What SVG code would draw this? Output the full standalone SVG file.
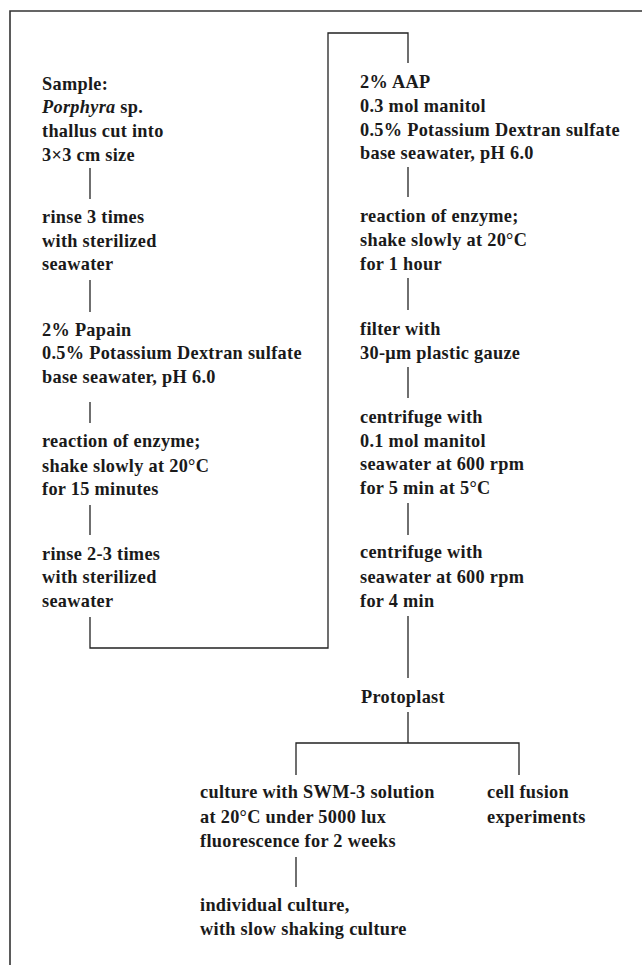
<svg xmlns="http://www.w3.org/2000/svg" width="642" height="965" viewBox="0 0 642 965">
<style>
text{font-family:"Liberation Serif","Times New Roman",serif;font-weight:bold;font-size:18.3px;letter-spacing:0.3px;fill:#1a1a1a}
.it{font-style:italic}
.ln{fill:none;stroke:#222;stroke-width:1.3}
.fr{fill:none;stroke:#333;stroke-width:1.6}
</style>
<rect width="642" height="965" fill="#fff"/>
<g id="frame"><path class="fr" d="M10,965 V11 H642"/></g>
<g id="connectors">
<path class="ln" d="M90,168 V199"/>
<path class="ln" d="M90,280 V312"/>
<path class="ln" d="M90,402 V423"/>
<path class="ln" d="M90,505 V535"/>
<path class="ln" d="M90,617 V648 H328 V33 H408 V63"/>
<path class="ln" d="M408,167 V197"/>
<path class="ln" d="M408,278 V310"/>
<path class="ln" d="M408,367 V398"/>
<path class="ln" d="M408,503 V535"/>
<path class="ln" d="M408,616 V678" stroke-width="1.8"/>
<path class="ln" d="M408,712 V743"/>
<path class="ln" d="M296,775 V743 H519 V775"/>
<path class="ln" d="M296,857 V887"/>
</g>
<g id="sample"><text x="42" y="90">Sample:</text><text x="42" y="113"><tspan class="it">Porphyra</tspan> sp.</text><text x="42" y="137">thallus cut into</text><text x="42" y="161">3×3 cm size</text></g>
<g id="rinse1"><text x="42" y="223">rinse 3 times</text><text x="42" y="247">with sterilized</text><text x="42" y="270">seawater</text></g>
<g id="papain"><text x="42" y="336">2% Papain</text><text x="42" y="359">0.5% Potassium Dextran sulfate</text><text x="42" y="383">base seawater, pH 6.0</text></g>
<g id="reaction1"><text x="42" y="447">reaction of enzyme;</text><text x="42" y="472">shake slowly at 20°C</text><text x="42" y="495">for 15 minutes</text></g>
<g id="rinse2"><text x="42" y="560">rinse 2-3 times</text><text x="42" y="583">with sterilized</text><text x="42" y="607">seawater</text></g>
<g id="aap"><text x="360" y="88">2% AAP</text><text x="360" y="112">0.3 mol manitol</text><text x="360" y="136">0.5% Potassium Dextran sulfate</text><text x="360" y="159">base seawater, pH 6.0</text></g>
<g id="reaction2"><text x="360" y="222">reaction of enzyme;</text><text x="360" y="246">shake slowly at 20°C</text><text x="360" y="270">for 1 hour</text></g>
<g id="filter"><text x="360" y="335">filter with</text><text x="360" y="359">30-μm plastic gauze</text></g>
<g id="centrifuge1"><text x="360" y="423">centrifuge with</text><text x="360" y="447">0.1 mol manitol</text><text x="360" y="470">seawater at 600 rpm</text><text x="360" y="494">for 5 min at 5°C</text></g>
<g id="centrifuge2"><text x="360" y="558">centrifuge with</text><text x="360" y="583">seawater at 600 rpm</text><text x="360" y="607">for 4 min</text></g>
<g id="protoplast"><text x="361" y="703">Protoplast</text></g>
<g id="culture"><text x="200" y="798">culture with SWM-3 solution</text><text x="200" y="823">at 20°C under 5000 lux</text><text x="200" y="847">fluorescence for 2 weeks</text></g>
<g id="fusion"><text x="487" y="798">cell fusion</text><text x="487" y="823">experiments</text></g>
<g id="individual"><text x="200" y="911">individual culture,</text><text x="200" y="935">with slow shaking culture</text></g>
</svg>
